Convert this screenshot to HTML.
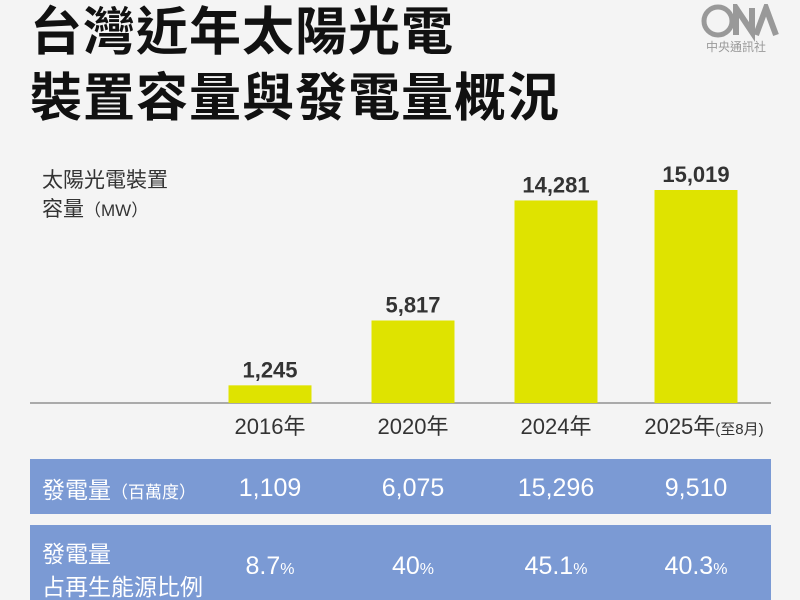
<!DOCTYPE html>
<html><head><meta charset="utf-8"><style>
body{margin:0;background:#f4f4f4;}
#root{position:relative;width:800px;height:600px;overflow:hidden;background:#f4f4f4;font-family:"Liberation Sans","Noto Sans CJK TC",sans-serif;color:#333;}
.t{position:absolute;white-space:nowrap;}
</style></head><body>
<div id="root">
<div class="t" style="left:30px;top:0px;font-size:52px;line-height:66px;font-weight:bold;color:#111;letter-spacing:1px;">台灣近年太陽光電</div>
<div class="t" style="left:30px;top:66px;font-size:52px;line-height:66px;font-weight:bold;color:#111;letter-spacing:1px;">裝置容量與發電量概況</div>
<div style="position:absolute;left:700px;top:4px;width:80px;height:50px;">
<svg width="80" height="50">
<circle cx="18" cy="17" r="14" fill="none" stroke="#999" stroke-width="5"/>
<path d="M36 31 L36 4 L52 28 L52 4" fill="none" stroke="#999" stroke-width="6"/>
<path d="M56 31 L66 4 L76 31" fill="none" stroke="#999" stroke-width="6"/>
</svg>
<div class="t" style="left:6px;top:34px;font-size:12px;color:#999;">中央通訊社</div>
</div>
<div class="t" style="left:42px;top:166px;font-size:21px;line-height:29px;color:#333;">太陽光電裝置<br>容量<span style="font-size:17px">（MW）</span></div>
<div style="position:absolute;left:30px;top:459px;width:741px;height:55px;background:#7b9ad4;"></div>
<div class="t" style="left:42px;top:471px;font-size:23px;color:#fff;">發電量<span style="font-size:17px">（百萬度）</span></div>
<div style="position:absolute;left:30px;top:525px;width:741px;height:80px;background:#7b9ad4;"></div>
<div class="t" style="left:42px;top:538px;font-size:23px;line-height:33px;color:#fff;">發電量<br>占再生能源比例</div>
<svg id="chart" width="800" height="600" style="position:absolute;left:0;top:0"></svg>
</div>
<script>
const categories=["2016年","2020年","2024年","2025年"];
const capacity=[1245,5817,14281,15019];
const generation=["1,109","6,075","15,296","9,510"];
const share=["8.7","40","45.1","40.3"];
const svg=document.getElementById('chart');
const NS="http://www.w3.org/2000/svg";
const baseY=403, scale=213/15019, barW=83;
const centers=[270,413,556,696];
function yPos(v){return baseY-v*scale;}
function mk(tag,attrs){const e=document.createElementNS(NS,tag);for(const k in attrs)e.setAttribute(k,attrs[k]);svg.appendChild(e);return e;}
const ax=mk('line',{x1:30,x2:771,y1:baseY,y2:baseY,stroke:'#aaa','stroke-width':2});


categories.forEach((c,i)=>{
  const cx=centers[i];
  const r=mk('rect',{x:cx-barW/2,y:yPos(capacity[i]),width:barW,height:baseY-yPos(capacity[i]),fill:'#dfe300'});
  
  
  const v=mk('text',{x:cx,y:yPos(capacity[i])-8,'text-anchor':'middle','font-size':22,'font-weight':'bold',fill:'#333','font-family':'Liberation Sans, sans-serif'});
  v.textContent=capacity[i].toLocaleString('en-US');
  
  
  const l=mk('text',{x:cx,y:434,'text-anchor':'middle','font-size':22,fill:'#333','font-family':'Liberation Sans, Noto Sans CJK TC, sans-serif'});
  l.textContent=c;
  if(i===3){const s=document.createElementNS(NS,'tspan');s.setAttribute('font-size',15);s.textContent='(至8月)';l.appendChild(s);l.setAttribute('x',cx+8);}
  
  
  const g=mk('text',{x:cx,y:496,'text-anchor':'middle','font-size':25,fill:'#fff','font-family':'Liberation Sans, sans-serif'});
  g.textContent=generation[i];
  
  
  const s2=mk('text',{x:cx,y:574,'text-anchor':'middle','font-size':25,fill:'#fff','font-family':'Liberation Sans, sans-serif'});
  s2.textContent=share[i];
  const p=document.createElementNS(NS,'tspan');p.setAttribute('font-size',16);p.textContent='%';s2.appendChild(p);
  
  
});
</script>
</body></html>
